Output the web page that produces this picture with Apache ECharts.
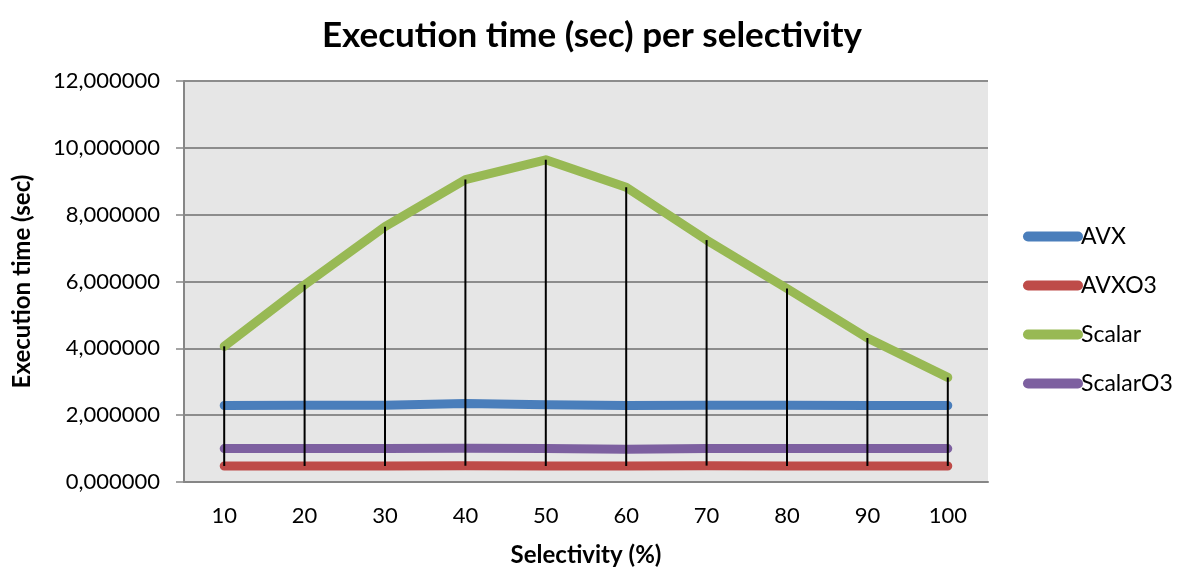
<!DOCTYPE html>
<html>
<head>
<meta charset="utf-8">
<title>Execution time (sec) per selectivity</title>
<script src="https://cdn.jsdelivr.net/npm/echarts@6/dist/echarts.min.js"></script>
<style>
  html, body { margin: 0; padding: 0; background: #ffffff; }
  #chart { width: 1184px; height: 572px; }
</style>
</head>
<body>
<div id="chart"></div>
<script>
// Selectivity categories (%)
const selectivity = ['10', '20', '30', '40', '50', '60', '70', '80', '90', '100'];

// Execution time in seconds per variant
const avx      = [2.29, 2.30, 2.30, 2.35, 2.31, 2.29, 2.30, 2.30, 2.29, 2.29];
const avxO3    = [0.48, 0.48, 0.48, 0.49, 0.48, 0.48, 0.49, 0.48, 0.48, 0.48];
const scalar   = [4.06, 5.90, 7.64, 9.05, 9.64, 8.82, 7.24, 5.79, 4.31, 3.13];
const scalarO3 = [1.00, 1.00, 1.00, 1.01, 1.00, 0.98, 1.00, 1.00, 1.00, 1.00];

const seriesNames = ['AVX', 'AVXO3', 'Scalar', 'ScalarO3'];
const seriesColors = ['#4a7ebb', '#be4b48', '#98b954', '#7d60a0'];
const seriesValues = [avx, avxO3, scalar, scalarO3];

// High-low lines: from the lowest to the highest series value at each category
const highLow = selectivity.map((c, i) => {
  const vals = seriesValues.map(s => s[i]);
  return [i, Math.min(...vals), Math.max(...vals)];
});

const baseFont = 'Lato, "Open Sans", "Noto Sans", sans-serif';

const chart = echarts.init(document.getElementById('chart'), null, { renderer: 'canvas' });

const lineSeries = seriesNames.map((name, k) => ({
  name: name,
  type: 'line',
  data: seriesValues[k],
  symbol: 'none',
  color: seriesColors[k],
  lineStyle: { width: 9, cap: 'round', join: 'round', color: seriesColors[k] },
  z: 2
}));

chart.setOption({
  animation: false,
  textStyle: { fontFamily: baseFont },
  title: {
    text: 'Execution time (sec) per selectivity',
    left: 'center',
    top: 13,
    textStyle: { fontSize: 35, fontWeight: 'bold', color: '#000', fontFamily: baseFont }
  },
  legend: {
    orient: 'vertical',
    left: 1018,
    top: 220,
    itemWidth: 60,
    itemHeight: 10,
    itemGap: 26,
    icon: 'path://M5,0 L55,0 A5,5 0 0 1 55,10 L5,10 A5,5 0 0 1 5,0 Z',
    textStyle: { fontSize: 23, color: '#000', fontFamily: baseFont, padding: [0, 0, 0, -7] },
    data: seriesNames
  },
  grid: {
    left: 184,
    right: 196,
    top: 81,
    bottom: 88,
    show: true,
    backgroundColor: '#e6e6e6',
    borderWidth: 0
  },
  xAxis: {
    type: 'category',
    data: selectivity,
    boundaryGap: true,
    name: 'Selectivity (%)',
    nameLocation: 'middle',
    nameGap: 61,
    nameTextStyle: { fontSize: 24, fontWeight: 'bold', color: '#000', fontFamily: baseFont },
    axisLine: { show: true, lineStyle: { color: '#868686', width: 2 } },
    axisTick: { show: false },
    axisLabel: { fontSize: 22, color: '#000', margin: 23, fontFamily: baseFont },
    splitLine: { show: false }
  },
  yAxis: {
    type: 'value',
    min: 0,
    max: 12,
    interval: 2,
    name: 'Execution time (sec)',
    nameLocation: 'middle',
    nameGap: 150,
    nameRotate: 90,
    nameTextStyle: { fontSize: 24, fontWeight: 'bold', color: '#000', fontFamily: baseFont },
    axisLine: { show: true, lineStyle: { color: '#868686', width: 2 } },
    axisTick: { show: true, length: 8, lineStyle: { color: '#868686', width: 1.5 } },
    axisLabel: {
      fontSize: 22,
      color: '#000',
      margin: 24,
      fontFamily: baseFont,
      formatter: v => v.toFixed(6).replace('.', ',')
    },
    splitLine: { show: true, lineStyle: { color: '#8c8c8c', width: 2 } }
  },
  series: lineSeries.concat([{
    name: 'High-Low',
    type: 'custom',
    data: highLow,
    encode: { x: 0, y: [1, 2] },
    silent: true,
    z: 5,
    renderItem: (params, api) => {
      const lo = api.coord([api.value(0), api.value(1)]);
      const hi = api.coord([api.value(0), api.value(2)]);
      return {
        type: 'line',
        shape: { x1: lo[0], y1: lo[1], x2: hi[0], y2: hi[1] },
        style: { stroke: '#000', lineWidth: 2 }
      };
    }
  }])
});
</script>
</body>
</html>
